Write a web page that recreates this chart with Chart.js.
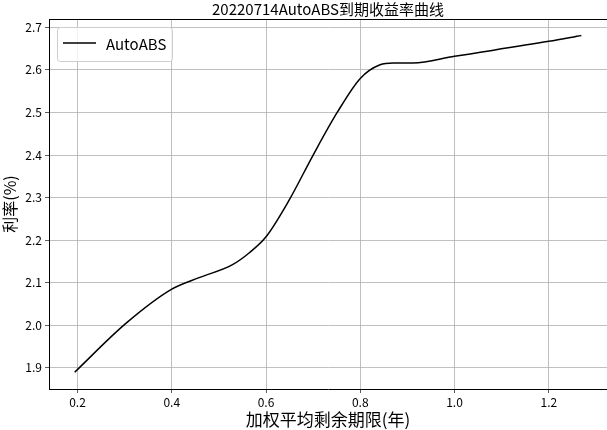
<!DOCTYPE html>
<html>
<head>
<meta charset="utf-8">
<script src="https://cdn.jsdelivr.net/npm/chart.js@4"></script>
<style>
  body { margin: 0; background: #fff; }
</style>
</head>
<body>
<canvas id="curve" width="607" height="430"></canvas>
<script>
// values
const termYears = [0.194, 0.302, 0.400, 0.458, 0.528, 0.564, 0.600, 0.649,
                   0.700, 0.751, 0.800, 0.842, 0.870, 0.912, 1.000, 1.200, 1.269];
const yieldPct = [1.890, 2.004, 2.085, 2.112, 2.142, 2.170, 2.208, 2.294,
                  2.400, 2.500, 2.580, 2.612, 2.616, 2.616, 2.632, 2.667, 2.681];
const xTicks = [0.2, 0.4, 0.6, 0.8, 1.0, 1.2];
const yTicks = [1.9, 2.0, 2.1, 2.2, 2.3, 2.4, 2.5, 2.6, 2.7];

const seriesName = "AutoABS";
const titleText = "20220714AutoABS到期收益率曲线";
const FONT = "'Noto Sans CJK SC', 'DejaVu Sans', sans-serif";

// title over the plot area + top frame + legend box, drawn like matplotlib does
const mplExtras = {
  id: "mplExtras",
  afterDraw(chart) {
    const { ctx, chartArea } = chart;
    ctx.save();
    // top frame (right side of the axes falls off the window)
    ctx.strokeStyle = "#000";
    ctx.lineWidth = 1;
    ctx.beginPath();
    ctx.moveTo(chartArea.left, chartArea.top + 0.5);
    ctx.lineTo(chartArea.right, chartArea.top + 0.5);
    ctx.stroke();
    // title
    ctx.fillStyle = "#000";
    ctx.font = "15px " + FONT;
    ctx.textAlign = "center";
    ctx.textBaseline = "middle";
    ctx.fillText(titleText, (chartArea.left + chartArea.right) / 2, 9);

    // legend
    const bx = chartArea.left + 8, by = chartArea.top + 8, bw = 115, bh = 34;
    ctx.fillStyle = "rgba(255,255,255,0.8)";
    ctx.strokeStyle = "#cccccc";
    ctx.beginPath();
    ctx.roundRect(bx + 0.5, by + 0.5, bw, bh, 3);
    ctx.fill();
    ctx.stroke();
    const ds = chart.data.datasets[0];
    ctx.strokeStyle = ds.borderColor;
    ctx.lineWidth = 1.5;
    ctx.beginPath();
    ctx.moveTo(bx + 6, by + 16);
    ctx.lineTo(bx + 39, by + 16);
    ctx.stroke();
    ctx.fillStyle = "#000";
    ctx.font = "15px " + FONT;
    ctx.textAlign = "left";
    ctx.fillText(ds.label, bx + 49, by + 17);
    ctx.restore();
  }
};

const ctx = document.getElementById("curve").getContext("2d");
const chart = new Chart(ctx, {
  type: "line",
  data: {
    datasets: [
      {
        label: seriesName,
        data: termYears.map((x, i) => ({ x: x, y: yieldPct[i] })),
        borderColor: "#000000",
        borderWidth: 1.5,
        pointRadius: 0,
        cubicInterpolationMode: "monotone",
        fill: false,
      },
    ],
  },
  options: {
    responsive: false,
    animation: false,
    layout: { padding: { top: 19, right: 0, left: 0, bottom: 0 } },
    plugins: {
      legend: { display: false },
      title: { display: false },
      tooltip: { enabled: false },
    },
    scales: {
      x: {
        type: "linear",
        min: 0.1395,
        max: 1.3235,
        afterBuildTicks: (axis) => { axis.ticks = xTicks.map((v) => ({ value: v })); },
        afterFit: (axis) => { axis.height = 41; },
        ticks: {
          color: "#000",
          font: { family: FONT, size: 12 },
          padding: 2,
          maxRotation: 0,
          callback: (v) => v.toFixed(1),
        },
        grid: { color: "#b0b0b0", lineWidth: 0.8, tickLength: 4, tickColor: "#333" },
        border: { display: true, color: "#000", width: 1 },
        title: {
          display: true,
          text: "加权平均剩余期限(年)",
          color: "#000",
          font: { family: FONT, size: 17 },
          padding: { top: 0, bottom: 0 },
        },
      },
      y: {
        min: 1.8505,
        max: 2.7195,
        afterBuildTicks: (axis) => { axis.ticks = yTicks.map((v) => ({ value: v })); },
        afterFit: (axis) => { axis.width = 49; },
        ticks: {
          color: "#000",
          font: { family: FONT, size: 12 },
          padding: 3,
          callback: (v) => v.toFixed(1),
        },
        grid: { color: "#b0b0b0", lineWidth: 0.8, tickLength: 4, tickColor: "#333" },
        border: { display: true, color: "#000", width: 1 },
        title: {
          display: true,
          text: "利率(%)",
          color: "#000",
          font: { family: FONT, size: 16 },
          padding: { top: 0, bottom: 0 },
        },
      },
    },
  },
  plugins: [mplExtras],
});
</script>
</body>
</html>
